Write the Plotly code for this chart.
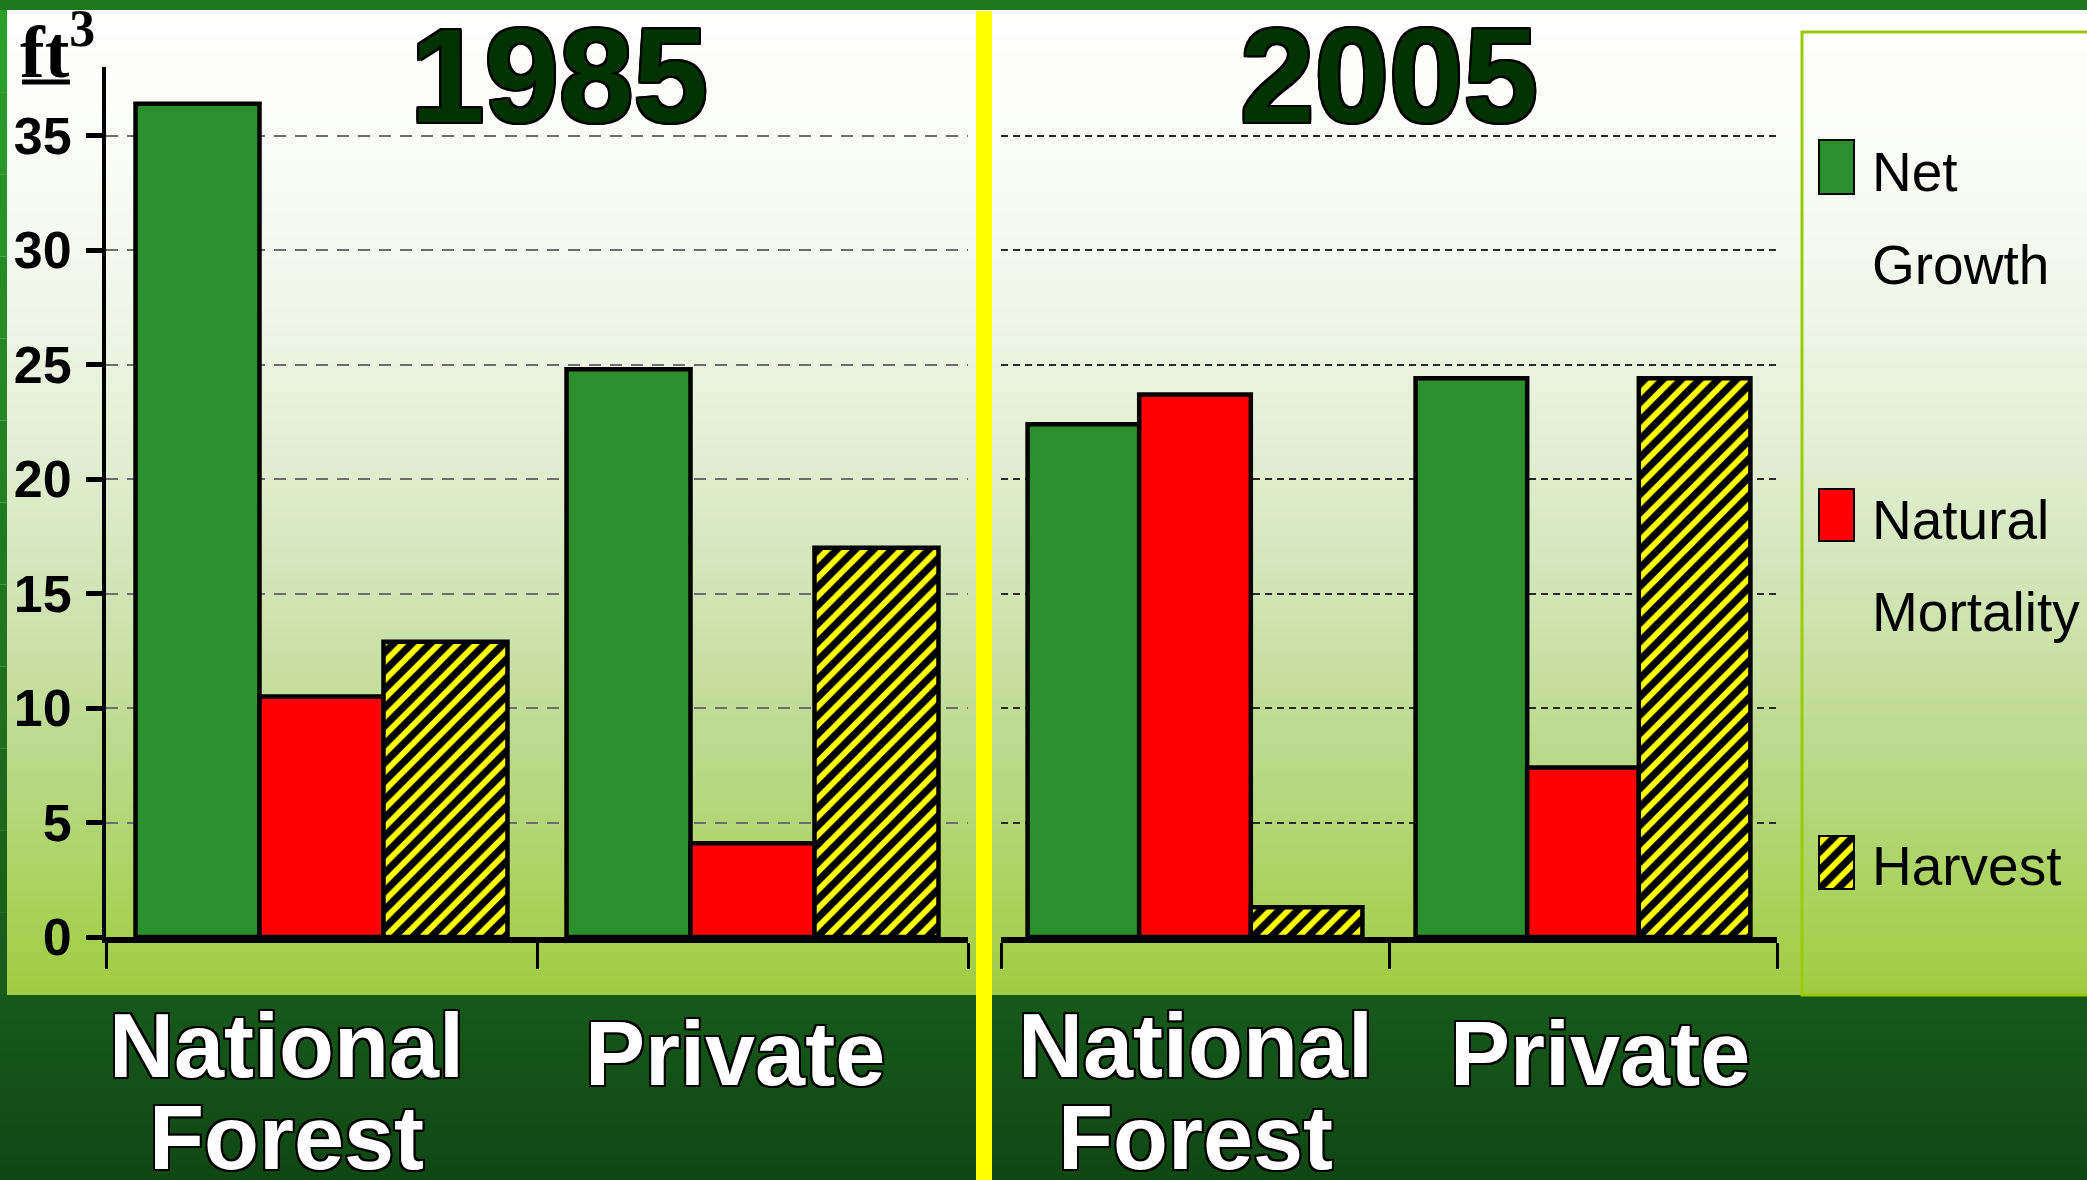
import base64
import struct
import zlib

import plotly.graph_objects as go

# ---------------- data ----------------
categories = ["National Forest", "Private"]
years = ["1985", "2005"]
series_names = ["Net Growth", "Natural Mortality", "Harvest"]

net_growth_1985 = [36.4, 24.8]
mortality_1985 = [10.5, 4.1]
harvest_1985 = [12.9, 17.0]

net_growth_2005 = [22.4, 24.4]
mortality_2005 = [23.7, 7.4]
harvest_2005 = [1.3, 24.4]

y_tick_values = [0, 5, 10, 15, 20, 25, 30, 35]
y_unit_label = "ft"
y_unit_power = "3"

values_by_year = {
    "1985": [net_growth_1985, mortality_1985, harvest_1985],
    "2005": [net_growth_2005, mortality_2005, harvest_2005],
}

# ---------------- styles ----------------
W, H = 2087, 1180
SANS = "Liberation Sans, Arial, sans-serif"
OUTLINE = ("2px 2px 0 #000, -2px -2px 0 #000, 2px -2px 0 #000, -2px 2px 0 #000, "
           "0 2px 0 #000, 0 -2px 0 #000, 2px 0 0 #000, -2px 0 0 #000")

series_style = [
    dict(color="#2b8f2e"),
    dict(color="#ff0000"),
    dict(color="#ffff00",
         pattern=dict(shape="/", fgcolor="#000000", bgcolor="#ffff00",
                      size=13, solidity=0.55, fillmode="replace")),
]


def px_x(x):
    return x / W


def px_y(y):
    return 1 - y / H


# ---------------- background gradient image ----------------
def lerp(c1, c2, t):
    return tuple(int(round(a + (b - a) * t)) for a, b in zip(c1, c2))


def hexrgb(h):
    h = h.lstrip("#")
    return tuple(int(h[i:i + 2], 16) for i in (0, 2, 4))


stops = [
    (10, "#ffffff"), (150, "#fafcf7"), (300, "#f1f6ea"), (450, "#e2eed3"),
    (600, "#d0e4b3"), (750, "#bcd98c"), (900, "#aad25c"), (994, "#a0cc40"),
]
band_stops = [(995, "#17591b"), (1179, "#0f4713")]


def color_at(y):
    if y < 10:
        return hexrgb("#1e781e")
    if y >= 995:
        (y0, c0), (y1, c1) = band_stops
        return lerp(hexrgb(c0), hexrgb(c1), (y - y0) / (y1 - y0))
    for (y0, c0), (y1, c1) in zip(stops[:-1], stops[1:]):
        if y0 <= y <= y1:
            return lerp(hexrgb(c0), hexrgb(c1), (y - y0) / (y1 - y0))
    return hexrgb(stops[-1][1])


def png_uri(rows):
    def chunk(tag, data):
        return (struct.pack(">I", len(data)) + tag + data
                + struct.pack(">I", zlib.crc32(tag + data) & 0xFFFFFFFF))
    raw = b"".join(b"\x00" + bytes(rgb) * 2 for rgb in rows)
    png = (b"\x89PNG\r\n\x1a\n"
           + chunk(b"IHDR", struct.pack(">IIBBBBB", 2, len(rows), 8, 2, 0, 0, 0))
           + chunk(b"IDAT", zlib.compress(raw, 9))
           + chunk(b"IEND", b""))
    return "data:image/png;base64," + base64.b64encode(png).decode()


bg_uri = png_uri([color_at(y) for y in range(H)])

# ---------------- figure ----------------
fig = go.Figure()

panel_axes = [("x", "y"), ("x2", "y2")]
for (xa, ya), year in zip(panel_axes, years):
    for name, vals, style in zip(series_names, values_by_year[year], series_style):
        fig.add_trace(go.Bar(
            x=categories, y=vals, name=name, xaxis=xa, yaxis=ya,
            marker=dict(line=dict(color="#000000", width=4.5), **style),
            showlegend=False, hoverinfo="x+y+name",
        ))

# legend swatches drawn as bars on small hidden subplots
legend_axes = [("x3", "y3"), ("x4", "y4"), ("x5", "y5")]
for (xa, ya), name, style in zip(legend_axes, series_names, series_style):
    fig.add_trace(go.Bar(
        x=[0], y=[1], width=[1], name=name, xaxis=xa, yaxis=ya,
        marker=dict(line=dict(color="#000000", width=4), **style),
        showlegend=False, hoverinfo="name",
    ))

left_dom = [px_x(106), px_x(968)]
right_dom = [px_x(1001), px_x(1777)]
y_dom = [px_y(937), px_y(67)]
y_range = [0, 38]

xaxis_common = dict(
    type="category", showline=True, linewidth=6, linecolor="#000000",
    ticks="outside", tickson="boundaries", ticklen=26, tickwidth=3,
    tickcolor="#000000", showticklabels=False, showgrid=False, zeroline=False,
    fixedrange=True, automargin=False,
)

fig.update_layout(
    width=W, height=H, autosize=False,
    margin=dict(l=0, r=0, t=0, b=0, pad=0, autoexpand=False),
    paper_bgcolor="#ffffff", plot_bgcolor="rgba(0,0,0,0)",
    barmode="group", bargap=0.137, bargroupgap=0,
    showlegend=False,
    xaxis=dict(domain=left_dom, anchor="y", **xaxis_common),
    xaxis2=dict(domain=right_dom, anchor="y2", **xaxis_common),
    yaxis=dict(
        domain=y_dom, anchor="x", range=y_range, tickvals=y_tick_values,
        showline=True, linewidth=4, linecolor="#000000",
        ticks="outside", ticklen=16, tickwidth=5, tickcolor="#000000",
        ticklabelstandoff=4, automargin=False,
        tickfont=dict(family=SANS, size=52, color="#000000", weight="bold"),
        showgrid=True, gridcolor="#6e6e6e", gridwidth=1.5, griddash="12px,9px",
        zeroline=False, fixedrange=True,
    ),
    yaxis2=dict(
        domain=y_dom, anchor="x2", range=y_range, tickvals=y_tick_values,
        showline=False, ticks="", showticklabels=False, automargin=False,
        showgrid=True, gridcolor="#2a2a2a", gridwidth=1.5, griddash="7px,5px",
        zeroline=False, fixedrange=True,
    ),
    images=[dict(source=bg_uri, xref="paper", yref="paper", x=0, y=1,
                 sizex=1, sizey=1, sizing="stretch", xanchor="left",
                 yanchor="top", layer="below")],
)

sw_x = [px_x(1818), px_x(1855)]
sw_y = [(139, 195), (488, 542), (835, 890)]
for i, ((xa, ya), (t, b)) in enumerate(zip(legend_axes, sw_y)):
    n = i + 3
    fig.update_layout({
        f"xaxis{n}": dict(domain=sw_x, anchor=f"y{n}", range=[-0.5, 0.5],
                          visible=False, fixedrange=True, automargin=False),
        f"yaxis{n}": dict(domain=[px_y(b), px_y(t)], anchor=f"x{n}",
                          range=[0, 1], visible=False, fixedrange=True,
                          automargin=False),
    })

shapes = []
# left dark strip
n_bands = 12
for i in range(n_bands):
    y0 = 10 + i * (985 / n_bands)
    y1 = 10 + (i + 1) * (985 / n_bands)
    c = lerp(hexrgb("#2a9e2a"), hexrgb("#1a5c1a"), i / (n_bands - 1))
    shapes.append(dict(type="rect", xref="paper", yref="paper",
                       x0=0, x1=px_x(7), y0=px_y(y1), y1=px_y(y0),
                       fillcolor="rgb(%d,%d,%d)" % c, line=dict(width=0),
                       layer="below"))
# yellow divider
shapes.append(dict(type="rect", xref="paper", yref="paper",
                   x0=px_x(976), x1=px_x(992), y0=0, y1=px_y(11),
                   fillcolor="#ffff00", line=dict(width=0), layer="above"))
# legend frame
shapes.append(dict(type="rect", xref="paper", yref="paper",
                   x0=px_x(1802), x1=px_x(2092), y0=px_y(995), y1=px_y(32),
                   fillcolor="rgba(0,0,0,0)", line=dict(color="#99cc00", width=3),
                   layer="below"))
# unit underline
shapes.append(dict(type="line", xref="paper", yref="paper",
                   x0=px_x(22), x1=px_x(70), y0=px_y(82), y1=px_y(82),
                   line=dict(color="#000000", width=5)))

annotations = []
title_centers = {"1985": 559, "2005": 1389}
for year in years:
    annotations.append(dict(
        text=year, xref="paper", yref="paper", x=px_x(title_centers[year]),
        y=px_y(76), xanchor="center", yanchor="middle", showarrow=False,
        font=dict(family=SANS, size=134, color="#003300", weight="bold",
                  shadow=OUTLINE),
    ))

annotations.append(dict(
    text=f"{y_unit_label}<sup>{y_unit_power}</sup>", xref="paper", yref="paper",
    x=px_x(18), y=px_y(47), xanchor="left", yanchor="middle", showarrow=False,
    font=dict(family="Liberation Serif, Times New Roman, serif", size=74,
              color="#000000", weight="bold"),
))

label_shift = {("x", 0): -35, ("x", 1): -18, ("x2", 0): 0, ("x2", 1): 17}
line_centers = {0: [1046, 1138], 1: [1054]}
for (xa, ya) in panel_axes:
    for ci, cat in enumerate(categories):
        for li, word in enumerate(cat.split(" ")):
            annotations.append(dict(
                text=word, xref=xa, yref="paper", x=cat,
                y=px_y(line_centers[ci][li]), xanchor="center", yanchor="middle",
                xshift=label_shift[(xa, ci)], showarrow=False,
                font=dict(family=SANS, size=90, color="#ffffff", weight="bold",
                          shadow=OUTLINE),
            ))

legend_line_centers = [[172, 265], [520, 612], [866]]
for name, centers in zip(series_names, legend_line_centers):
    for word, cy in zip(name.split(" "), centers):
        annotations.append(dict(
            text=word, xref="paper", yref="paper",
            x=px_x(1870), y=px_y(cy), xanchor="left", yanchor="middle",
            align="left", showarrow=False,
            font=dict(family=SANS, size=55, color="#000000"),
        ))

fig.update_layout(shapes=shapes, annotations=annotations)

fig.write_html(
    "out.html",
    config={"responsive": False, "displayModeBar": False},
    post_script=("document.documentElement.style.margin='0';"
                 "document.body.style.margin='0';"
                 "document.body.style.overflow='hidden';"
                 "document.documentElement.style.overflow='hidden';"),
)
